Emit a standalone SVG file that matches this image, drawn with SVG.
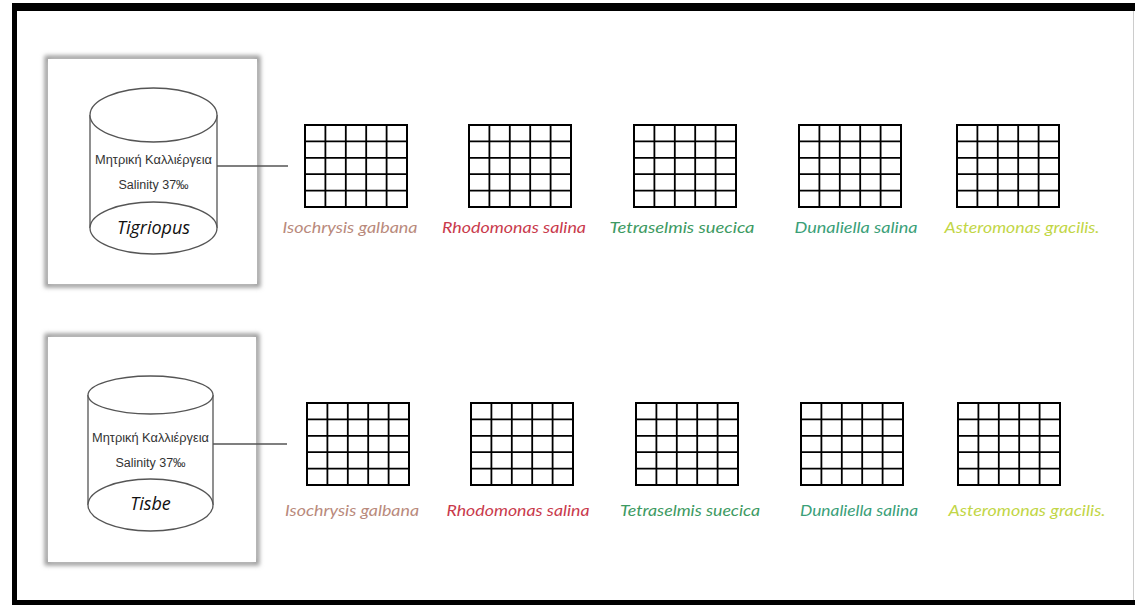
<svg xmlns="http://www.w3.org/2000/svg" width="1135" height="605" viewBox="0 0 1135 605">
<defs>
<filter id="blur" x="-10%" y="-10%" width="120%" height="120%"><feGaussianBlur stdDeviation="2"/></filter>
<g id="gridshape">
<path d="M20.4 0V82M40.8 0V82M61.2 0V82M81.6 0V82M0 16.4H102M0 32.8H102M0 49.2H102M0 65.6H102" stroke="#000" stroke-width="1.8" fill="none"/>
<rect x="0" y="0" width="102" height="82" fill="none" stroke="#000" stroke-width="2"/>
</g>
</defs>
<style>
.cyl{fill:#fff;stroke:#555;stroke-width:1.3}
.ctext{font-family:"Liberation Sans",Arial,sans-serif;font-size:12.5px;fill:#333;text-anchor:middle}
.name{font-family:"Open Sans",sans-serif;font-style:italic;font-size:18px;fill:#111;text-anchor:middle}
.lab{font-family:Lato,"Open Sans",sans-serif;font-style:italic;font-size:15px;text-anchor:middle}
.conn{stroke:#555;stroke-width:1.3;fill:none}
</style>
<rect width="1135" height="605" fill="#fff"/>
<g id="frame">
<rect x="12" y="3" width="1123" height="8" fill="#000"/>
<rect x="12" y="3" width="5" height="602" fill="#000"/>
<rect x="12" y="600" width="1123" height="5" fill="#000"/>
<line x1="1133.5" y1="11" x2="1133.5" y2="600" stroke="#ccc" stroke-width="1"/>
</g>
<g id="tigriopus">
<rect x="47" y="58" width="211" height="227" fill="none" stroke="#999" stroke-width="5" filter="url(#blur)"/>
<rect x="48" y="59" width="209" height="225" fill="#fff"/>
<path class="cyl" d="M90 115V228A63.5 26 0 0 0 217 228V115"/>
<ellipse class="cyl" cx="153.5" cy="115" rx="63.5" ry="27"/>
<path class="cyl" fill="none" d="M90 228A63.5 26 0 0 1 217 228"/>
<text class="ctext" x="153.5" y="164" textLength="117" lengthAdjust="spacingAndGlyphs">Μητρική Καλλιέργεια</text>
<text class="ctext" x="153.5" y="189">Salinity 37‰</text>
<text class="name" x="153.5" y="234">Tigriopus</text>
</g>
<g id="tisbe">
<rect x="47" y="336" width="210" height="227" fill="none" stroke="#999" stroke-width="5" filter="url(#blur)"/>
<rect x="48" y="337" width="208" height="225" fill="#fff"/>
<path class="cyl" d="M88 395V505A62.5 26 0 0 0 213 505V395"/>
<ellipse class="cyl" cx="150.5" cy="395" rx="62.5" ry="19"/>
<path class="cyl" fill="none" d="M88 505A62.5 26 0 0 1 213 505"/>
<text class="ctext" x="150.5" y="442" textLength="117" lengthAdjust="spacingAndGlyphs">Μητρική Καλλιέργεια</text>
<text class="ctext" x="150.5" y="467">Salinity 37‰</text>
<text class="name" x="150.5" y="510">Tisbe</text>
</g>
<g id="connectors">
<line class="conn" x1="217" y1="166" x2="288" y2="166"/>
<line class="conn" x1="213" y1="444" x2="287" y2="444"/>
</g>
<g id="grids-top">
<use id="g1a" href="#gridshape" x="305" y="125"/>
<use id="g2a" href="#gridshape" x="469" y="125"/>
<use id="g3a" href="#gridshape" x="634" y="125"/>
<use id="g4a" href="#gridshape" x="799" y="125"/>
<use id="g5a" href="#gridshape" x="957" y="125"/>
</g>
<g id="grids-bottom">
<use id="g1b" href="#gridshape" x="307" y="403"/>
<use id="g2b" href="#gridshape" x="471" y="403"/>
<use id="g3b" href="#gridshape" x="636" y="403"/>
<use id="g4b" href="#gridshape" x="801" y="403"/>
<use id="g5b" href="#gridshape" x="958" y="403"/>
</g>
<g id="labels-top">
<text class="lab" x="350" y="233" fill="#b98a7c" textLength="135" lengthAdjust="spacingAndGlyphs">Isochrysis galbana</text>
<text class="lab" x="514" y="233" fill="#c93a4c" textLength="144" lengthAdjust="spacingAndGlyphs">Rhodomonas salina</text>
<text class="lab" x="682" y="233" fill="#3d9a62" textLength="145" lengthAdjust="spacingAndGlyphs">Tetraselmis suecica</text>
<text class="lab" x="856" y="233" fill="#3aa078" textLength="123" lengthAdjust="spacingAndGlyphs">Dunaliella salina</text>
<text class="lab" x="1022" y="233" fill="#c2d646" textLength="155" lengthAdjust="spacingAndGlyphs">Asteromonas gracilis.</text>
</g>
<g id="labels-bottom">
<text class="lab" x="352" y="516" fill="#b98a7c" textLength="134" lengthAdjust="spacingAndGlyphs">Isochrysis galbana</text>
<text class="lab" x="518" y="516" fill="#c93a4c" textLength="143" lengthAdjust="spacingAndGlyphs">Rhodomonas salina</text>
<text class="lab" x="690" y="516" fill="#3d9a62" textLength="140" lengthAdjust="spacingAndGlyphs">Tetraselmis suecica</text>
<text class="lab" x="859" y="516" fill="#3aa078" textLength="118" lengthAdjust="spacingAndGlyphs">Dunaliella salina</text>
<text class="lab" x="1027" y="516" fill="#c2d646" textLength="157" lengthAdjust="spacingAndGlyphs">Asteromonas gracilis.</text>
</g>
</svg>
